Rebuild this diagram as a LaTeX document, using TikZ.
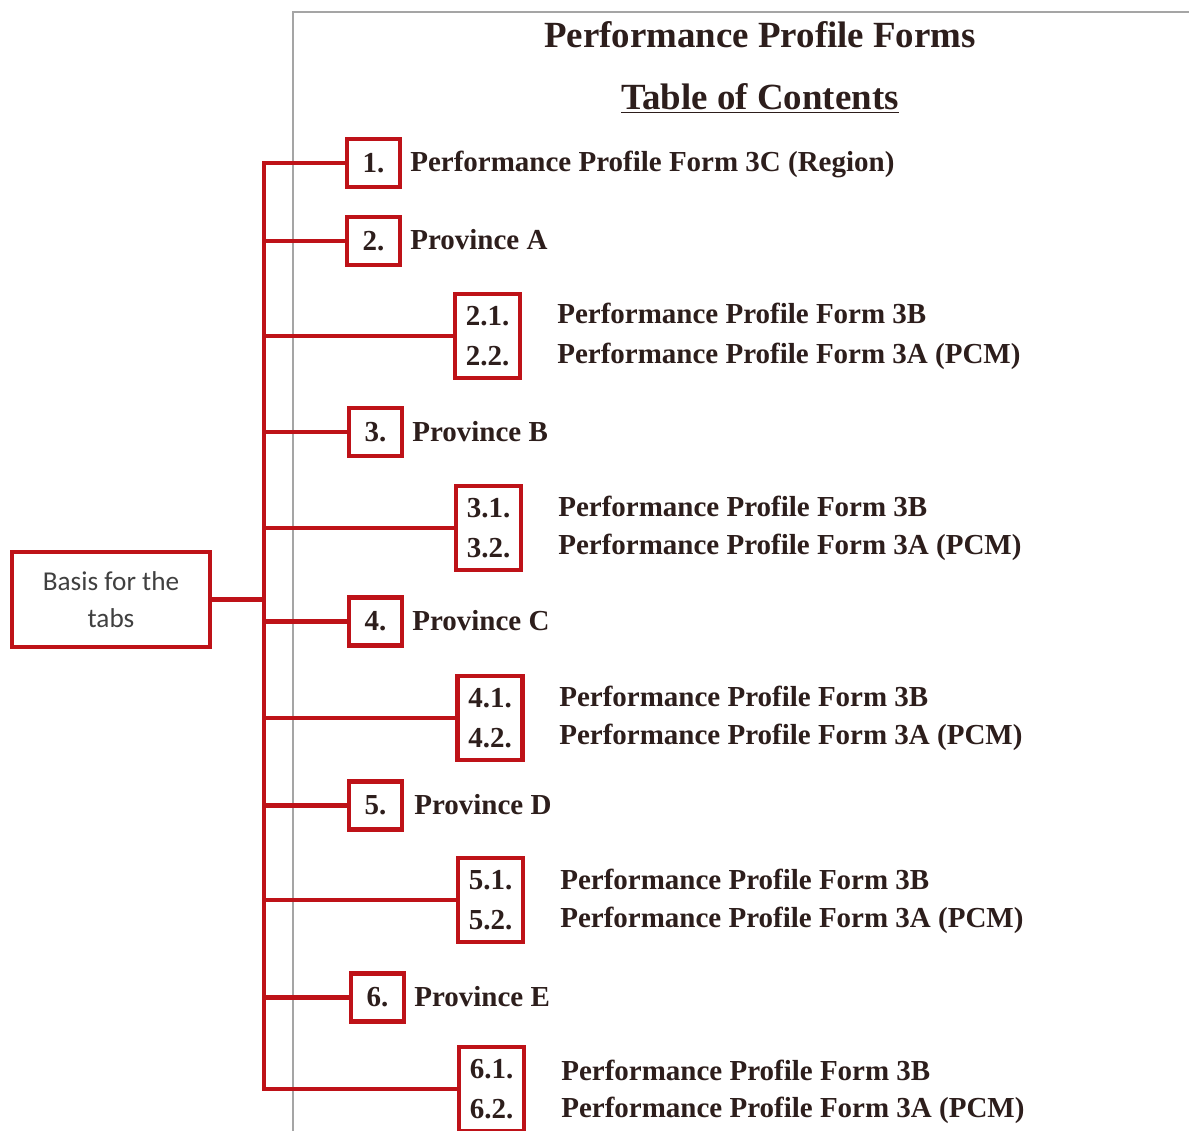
\documentclass[tikz,border=0pt]{standalone}
\usepackage{fontspec}
\setmainfont{Liberation Serif}
\newfontfamily\tabfont{Carlito}
\definecolor{tabred}{RGB}{190,18,24}
\definecolor{inkdark}{RGB}{45,30,28}
\definecolor{pagegray}{RGB}{165,165,165}
\usetikzlibrary{positioning}

\begin{document}
\begin{tikzpicture}[x=0.02cm, y=-0.02cm,
  every node/.style={font=\fontsize{16.5}{22.7}\selectfont\bfseries, text=inkdark},
  numbox/.style={draw=tabred, line width=2.8pt, minimum width=1.06cm, minimum height=0.96cm, inner sep=0pt},
  subbox/.style={draw=tabred, line width=2.8pt, minimum width=1.3cm, minimum height=1.68cm, inner sep=0pt, align=center},
  entry/.style={anchor=base west, inner sep=0pt},
  branch/.style={tabred, line width=2.8pt}]
\useasboundingbox (0,0) rectangle (1189,1131);

% page of the contents list
\draw[pagegray, line width=0.8pt] (293,1131) -- (293,12) -- (1189,12);
\node (title) at (760,35) {\fontsize{21}{25}\selectfont Performance Profile Forms};
\node (toc) at (760,98) {\fontsize{21}{25}\selectfont\underline{Table of Contents}};

% tab boxes
\node[numbox] (b1) at (373.5,163) {1.};
\node[numbox] (b2) at (373.5,241) {2.};
\node[subbox] (s2) at (487.5,336) {2.1.\\2.2.};
\node[numbox] (b3) at (375.5,432) {3.};
\node[subbox] (s3) at (488.5,528) {3.1.\\3.2.};
\node[numbox] (b4) at (375.5,621.5) {4.};
\node[subbox] (s4) at (490,718) {4.1.\\4.2.};
\node[numbox] (b5) at (375.5,805.5) {5.};
\node[subbox] (s5) at (490.5,900) {5.1.\\5.2.};
\node[numbox] (b6) at (377.5,997.5) {6.};
\node[subbox] (s6) at (491.5,1089) {6.1.\\6.2.};

% entries
\node[entry] (e1) at (410,172) {Performance Profile Form 3C (Region)};
\node[entry] (e2) at (410,250) {Province A};
\node[entry] (e21) at (557,324) {Performance Profile Form 3B};
\node[entry] (e22) at (557,364) {Performance Profile Form 3A (PCM)};
\node[entry] (e3) at (412,441) {Province B};
\node[entry] (e31) at (558,516) {Performance Profile Form 3B};
\node[entry] (e32) at (558,554) {Performance Profile Form 3A (PCM)};
\node[entry] (e4) at (412,630) {Province C};
\node[entry] (e41) at (559,706) {Performance Profile Form 3B};
\node[entry] (e42) at (559,744) {Performance Profile Form 3A (PCM)};
\node[entry] (e5) at (414,814) {Province D};
\node[entry] (e51) at (560,889) {Performance Profile Form 3B};
\node[entry] (e52) at (560,927) {Performance Profile Form 3A (PCM)};
\node[entry] (e6) at (414,1006) {Province E};
\node[entry] (e61) at (561,1080) {Performance Profile Form 3B};
\node[entry] (e62) at (561,1117) {Performance Profile Form 3A (PCM)};

% basis box and the tree
\node[draw=tabred, line width=2.8pt, minimum width=3.96cm, minimum height=1.9cm, align=center,
      font=\tabfont\fontsize{15.5}{21}\selectfont, text=black!75]
  (basis) at (111,599.5) {Basis for the\\tabs};
\coordinate (spine) at (264,163);
\draw[branch] (b1.west) -- (b1.west -| spine) -- (s6.west -| spine) -- (s6.west);
\draw[branch] (basis.east) -- (basis.east -| spine);
\draw[branch] (b2.west -| spine) -- (b2.west);
\draw[branch] (s2.west -| spine) -- (s2.west);
\draw[branch] (b3.west -| spine) -- (b3.west);
\draw[branch] (s3.west -| spine) -- (s3.west);
\draw[branch] (b4.west -| spine) -- (b4.west);
\draw[branch] (s4.west -| spine) -- (s4.west);
\draw[branch] (b5.west -| spine) -- (b5.west);
\draw[branch] (s5.west -| spine) -- (s5.west);
\draw[branch] (b6.west -| spine) -- (b6.west);
\end{tikzpicture}
\end{document}
